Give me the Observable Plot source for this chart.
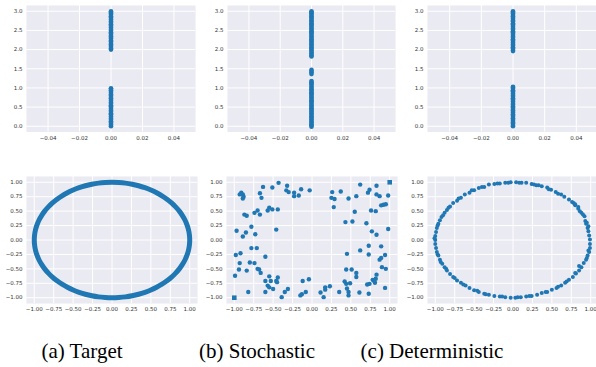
<!DOCTYPE html>
<html>
<head>
<meta charset="utf-8">
<script src="https://cdn.jsdelivr.net/npm/d3@7"></script>
<script src="https://cdn.jsdelivr.net/npm/@observablehq/plot@0.6"></script>
<style>
  html, body { margin: 0; padding: 0; background: #fff; overflow: hidden; }
  #root { position: relative; width: 596px; height: 367px; overflow: hidden; }
  #root > svg, #root > figure { position: absolute; margin: 0; }
  .cap { position: absolute; width: 200px; text-align: center; font-family: "Liberation Serif", "Times New Roman", serif; font-size: 21px; line-height: 21px; color: #000; white-space: nowrap; }
</style>
</head>
<body>
<div id="root"></div>
<script>
// ---------------- data ----------------
const captions = ["(a) Target", "(b) Stochastic", "(c) Deterministic"];

const topXTicks = [-0.04, -0.02, 0.00, 0.02, 0.04];
const topYTicks = [0.0, 0.5, 1.0, 1.5, 2.0, 2.5, 3.0];
const ringTicks = [-1.00, -0.75, -0.50, -0.25, 0.00, 0.25, 0.50, 0.75, 1.00];

// top row: every sample has x = 0
const topXValue = 0;
const targetTopY = [0.00,0.03,0.06,0.10,0.13,0.17,0.20,0.24,0.27,0.31,0.34,0.38,0.41,0.45,0.48,0.52,0.55,0.59,0.62,0.66,0.69,0.73,0.76,0.80,0.83,0.87,0.90,0.94,0.97,0.99,
                    2.00,2.03,2.07,2.10,2.14,2.17,2.21,2.24,2.28,2.31,2.35,2.38,2.42,2.45,2.49,2.52,2.56,2.59,2.63,2.66,2.70,2.73,2.77,2.80,2.84,2.87,2.91,2.94,2.97,3.00];
const stochTopY = [-0.01,0.02,0.05,0.09,0.12,0.16,0.19,0.23,0.26,0.30,0.33,0.37,0.40,0.44,0.47,0.51,0.54,0.58,0.61,0.65,0.68,0.72,0.75,0.79,0.82,0.86,0.89,0.93,0.96,1.00,1.03,1.08,1.11,1.15,1.18,
                   1.36,1.40,1.44,1.47,
                   1.82,1.85,1.89,1.92,1.96,1.99,2.03,2.06,2.10,2.13,2.17,2.20,2.24,2.27,2.31,2.34,2.38,2.41,2.45,2.48,2.52,2.55,2.59,2.62,2.66,2.69,2.73,2.76,2.80,2.83,2.87,2.90,2.94,2.97,3.00];
const detTopY = [0.00,0.03,0.07,0.10,0.14,0.17,0.21,0.24,0.28,0.31,0.35,0.38,0.42,0.45,0.49,0.52,0.56,0.59,0.63,0.66,0.70,0.73,0.77,0.80,0.84,0.87,0.91,0.94,0.98,1.01,1.03,
                 1.96,1.99,2.03,2.06,2.10,2.13,2.17,2.20,2.24,2.27,2.31,2.34,2.38,2.41,2.45,2.48,2.52,2.55,2.59,2.62,2.66,2.69,2.73,2.76,2.80,2.83,2.87,2.90,2.94,2.97,3.00];

// bottom row: target ring (dense samples on the unit circle, every 5 degrees)
const targetRingX = [1.000,0.996,0.985,0.966,0.940,0.906,0.866,0.819,0.766,0.707,0.643,0.574,0.500,0.423,0.342,0.259,0.174,0.087,
  0.000,-0.087,-0.174,-0.259,-0.342,-0.423,-0.500,-0.574,-0.643,-0.707,-0.766,-0.819,-0.866,-0.906,-0.940,-0.966,-0.985,-0.996,
  -1.000,-0.996,-0.985,-0.966,-0.940,-0.906,-0.866,-0.819,-0.766,-0.707,-0.643,-0.574,-0.500,-0.423,-0.342,-0.259,-0.174,-0.087,
  0.000,0.087,0.174,0.259,0.342,0.423,0.500,0.574,0.643,0.707,0.766,0.819,0.866,0.906,0.940,0.966,0.985,0.996];
const targetRingY = [0.000,0.087,0.174,0.259,0.342,0.423,0.500,0.574,0.643,0.707,0.766,0.819,0.866,0.906,0.940,0.966,0.985,0.996,
  1.000,0.996,0.985,0.966,0.940,0.906,0.866,0.819,0.766,0.707,0.643,0.574,0.500,0.423,0.342,0.259,0.174,0.087,
  0.000,-0.087,-0.174,-0.259,-0.342,-0.423,-0.500,-0.574,-0.643,-0.707,-0.766,-0.819,-0.866,-0.906,-0.940,-0.966,-0.985,-0.996,
  -1.000,-0.996,-0.985,-0.966,-0.940,-0.906,-0.866,-0.819,-0.766,-0.707,-0.643,-0.574,-0.500,-0.423,-0.342,-0.259,-0.174,-0.087];

// stochastic samples
const stochX = [-0.91,-0.89,-0.88,-0.89,-0.93,-0.63,-0.51,-0.43,-0.67,-0.65,-0.32,-0.33,-0.30,-0.23,-0.23,-0.17,-0.14,-0.03,
  -0.74,-0.70,-0.57,-0.55,-0.51,-0.44,-0.87,-0.84,-0.67,-0.78,-0.85,-0.97,-0.89,-0.73,-0.46,
  -0.98,-0.92,-0.78,-0.71,-0.60,-0.93,-0.80,-0.74,-0.94,-0.84,-0.70,-0.68,-0.66,-0.99,
  -0.60,-0.55,-0.53,-0.46,-0.44,-0.45,-0.57,-0.55,-0.50,-0.60,-0.82,-0.39,-0.35,-0.31,
  -0.12,-0.04,-0.08,-0.13,-0.15,0.11,0.17,0.17,0.15,0.23,0.35,0.42,0.44,0.45,0.47,0.47,0.49,
  0.57,0.57,0.51,0.44,0.45,0.62,0.61,0.73,0.71,0.74,0.78,0.80,0.81,0.82,0.83,0.94,0.90,0.95,0.87,0.89,
  0.73,0.73,0.89,0.94,0.77,0.83,0.98,0.70,0.52,0.43,0.55,0.76,0.82,0.89,0.92,0.95,0.98,0.87,0.83,0.83,
  0.74,0.72,0.62,0.57,0.47,0.37,0.26,0.25,0.29,0.28];
const stochY = [0.82,0.79,0.75,0.72,0.79,0.92,0.91,0.99,0.81,0.73,0.94,0.86,0.83,0.82,0.76,0.77,0.88,0.86,
  0.47,0.51,0.51,0.56,0.53,0.53,0.44,0.42,0.44,0.23,0.13,0.16,0.06,0.10,0.18,
  -0.26,-0.23,-0.14,-0.14,-0.29,-0.40,-0.39,-0.40,-0.51,-0.53,-0.50,-0.51,-0.57,-0.62,
  -0.71,-0.63,-0.71,-0.71,-0.65,-0.73,-0.79,-0.82,-0.85,-0.90,-0.90,-0.99,-0.90,-0.85,
  -0.71,-0.68,-0.90,-0.94,-0.96,-0.91,-0.82,-0.86,-0.99,-0.80,-0.90,-0.72,-0.76,-0.84,-0.90,-0.96,-0.75,
  -0.64,-0.57,-0.51,-0.51,-0.24,-0.18,-0.91,-0.93,-0.77,-0.76,-0.69,-0.71,-0.74,-0.67,-0.60,-0.83,-0.47,-0.50,-0.34,-0.31,
  -0.25,-0.10,-0.11,-0.26,0.15,0.09,0.19,0.29,0.32,0.31,0.49,0.51,0.50,0.60,0.61,0.62,0.77,0.76,0.79,0.94,
  0.87,0.82,0.96,0.76,0.72,0.84,0.83,0.73,0.71,0.57];
const stochSquareX = [1.00, -1.00];
const stochSquareY = [1.00, -1.00];

// deterministic samples
const detX = [0.99,0.98,0.97,0.96,0.94,0.93,0.92,0.88,0.84,0.80,0.78,0.72,0.66,0.62,0.55,0.49,0.44,0.37,0.30,0.24,0.17,0.11,0.04,
  -0.03,-0.10,-0.17,-0.24,-0.31,-0.37,-0.44,-0.50,-0.56,-0.62,-0.67,-0.72,-0.77,-0.81,-0.85,-0.88,-0.92,-0.94,-0.96,-0.98,-0.99,-1.00,
  -1.00,-1.00,-0.99,-0.98,-0.96,-0.94,-0.91,-0.88,-0.85,-0.81,-0.77,-0.72,-0.67,-0.61,-0.56,-0.50,-0.44,-0.37,-0.31,-0.24,-0.17,-0.10,-0.03,
  0.03,0.10,0.17,0.24,0.31,0.37,0.44,0.50,0.56,0.62,0.67,0.72,0.77,0.81,0.85,0.88,0.91,0.94,0.96,0.98,0.99,0.99,
  0.97,0.95,0.90,0.86,0.84,0.80,0.76,0.58,0.46,0.33,0.27,0.08,-0.06,-0.20,-0.40,-0.53,-0.70,-0.83,-0.90,-0.97,-1.01,-0.97,-0.93,-0.86,-0.75,-0.64,-0.46,-0.35,-0.14,0.06,0.21,0.42,0.58,0.69,0.80,0.85,0.95,0.97];
const detY = [0.01,0.08,0.15,0.21,0.28,0.33,0.41,0.47,0.54,0.60,0.64,0.70,0.75,0.79,0.83,0.87,0.91,0.93,0.95,0.97,0.99,0.99,1.00,
  1.00,0.99,0.98,0.97,0.96,0.92,0.90,0.86,0.82,0.79,0.73,0.68,0.64,0.58,0.52,0.47,0.40,0.34,0.28,0.21,0.14,0.07,
  0.00,-0.07,-0.14,-0.21,-0.27,-0.34,-0.41,-0.47,-0.53,-0.59,-0.64,-0.70,-0.74,-0.79,-0.83,-0.87,-0.90,-0.93,-0.95,-0.97,-0.98,-0.99,-1.00,
  -1.00,-0.99,-0.98,-0.97,-0.95,-0.92,-0.90,-0.86,-0.83,-0.79,-0.74,-0.69,-0.64,-0.58,-0.53,-0.47,-0.40,-0.34,-0.27,-0.21,-0.14,-0.07,
  0.24,0.30,0.44,0.50,0.57,0.62,0.66,0.80,0.88,0.95,0.96,0.99,0.99,0.98,0.92,0.86,0.72,0.56,0.43,0.25,0.03,-0.25,-0.38,-0.50,-0.66,-0.77,-0.88,-0.94,-0.98,-0.99,-0.97,-0.90,-0.81,-0.72,-0.57,-0.45,-0.31,-0.18];

// ---------------- drawing ----------------
const root = document.getElementById("root");
const blue = "#1f77b4";
const f1 = d3.format(".1f"), f2 = d3.format(".2f");

function panel(cfg) {
  const chart = Plot.plot({
    width: cfg.width, height: cfg.height,
    marginLeft: cfg.ml, marginRight: cfg.mr, marginTop: cfg.mt, marginBottom: cfg.mb,
    x: {domain: cfg.xDomain},
    y: {domain: cfg.yDomain},
    style: {fontFamily: "DejaVu Sans, sans-serif", fontSize: "5.5px", color: "#333", background: "transparent", overflow: "visible"},
    marks: [
      Plot.frame({fill: "#EAEAF2", stroke: "none"}),
      Plot.gridX(cfg.xTicks, {stroke: "white", strokeOpacity: 1, strokeWidth: 1}),
      Plot.gridY(cfg.yTicks, {stroke: "white", strokeOpacity: 1, strokeWidth: 1}),
      Plot.axisX(cfg.xTicks, {tickSize: 0, tickPadding: 4, tickFormat: cfg.xFmt, label: null, fontSize: 5.5}),
      Plot.axisY(cfg.yTicks, {tickSize: 0, tickPadding: 4, tickFormat: cfg.yFmt, label: null, fontSize: 5.5}),
      ...cfg.marks
    ]
  });
  chart.style.position = "absolute";
  chart.style.left = cfg.left + "px";
  chart.style.top = cfg.top + "px";
  root.appendChild(chart);
}

const topCommon = {top: 0, height: 145, mt: 5, mb: 13.5, xTicks: topXTicks, yTicks: topYTicks, xFmt: f2, yFmt: f1, yDomain: [-0.15, 3.15]};
const botCommon = {top: 170, height: 145, mt: 6, mb: 12, xTicks: ringTicks, yTicks: ringTicks, xFmt: f2, yFmt: f2, xDomain: [-1.1, 1.1], yDomain: [-1.1, 1.1]};

const topDots = (ys) => Plot.dot(ys, {x: () => topXValue, y: d => d, r: 2.3, fill: blue, stroke: "none"});

panel({...topCommon, left: 0, width: 200, ml: 26, mr: 5, xDomain: [-0.0537, 0.0537], marks: [topDots(targetTopY)]});
panel({...topCommon, left: 200, width: 200, ml: 27, mr: 5, xDomain: [-0.0537, 0.0537], marks: [topDots(stochTopY)]});
panel({...topCommon, left: 396, width: 210, ml: 31, mr: 8, xDomain: [-0.054, 0.054], marks: [topDots(detTopY)]});

const targetRing = targetRingX.map((x, i) => ({x, y: targetRingY[i]}));
const stoch = stochX.map((x, i) => ({x, y: stochY[i]}));
const stochSq = stochSquareX.map((x, i) => ({x, y: stochSquareY[i]}));
const det = detX.map((x, i) => ({x, y: detY[i]}));

panel({...botCommon, left: 0, width: 200, ml: 26, mr: 3, marks: [
  Plot.line(targetRing, {x: "x", y: "y", curve: "catmull-rom-closed", stroke: blue, strokeWidth: 5})
]});
panel({...botCommon, left: 200, width: 200, ml: 26, mr: 3, marks: [
  Plot.dot(stoch, {x: "x", y: "y", r: 2.2, fill: blue, stroke: "none"}),
  Plot.dot(stochSq, {x: "x", y: "y", r: 2.6, symbol: "square", fill: blue, stroke: "none"})
]});
panel({...botCommon, left: 396, width: 210, ml: 31, mr: 8, marks: [
  Plot.dot(det, {x: "x", y: "y", r: 2.0, fill: blue, stroke: "none"})
]});

// captions (HTML, below the panels)
const capX = [82, 257, 432];
captions.forEach((t, i) => {
  const el = document.createElement("div");
  el.className = "cap";
  el.style.left = (capX[i] - 100) + "px";
  el.style.top = "341px";
  el.textContent = t;
  root.appendChild(el);
});
</script>
</body>
</html>
